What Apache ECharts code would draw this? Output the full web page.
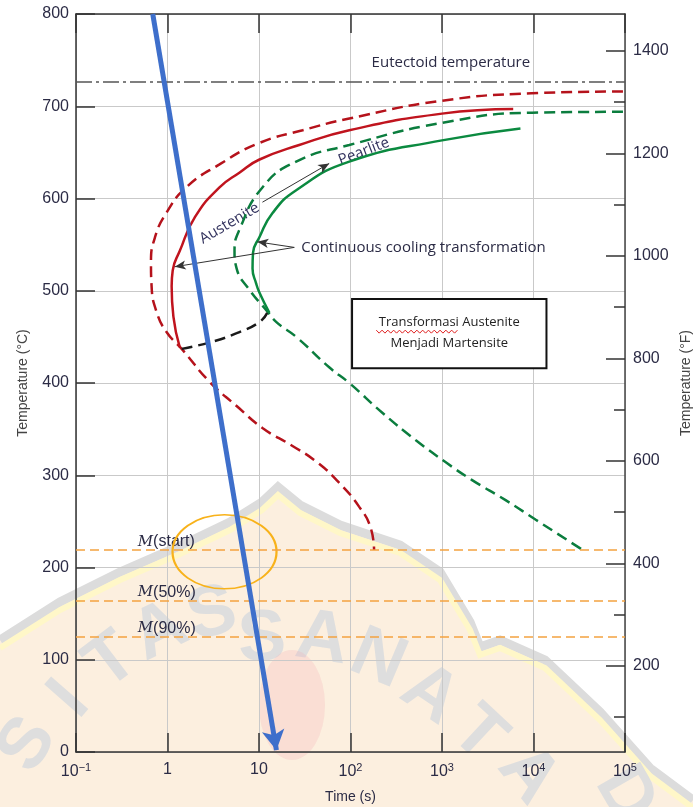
<!DOCTYPE html>
<html>
<head>
<meta charset="utf-8">
<title>CCT diagram</title>
<script src="https://cdn.jsdelivr.net/npm/echarts@6/dist/echarts.min.js"></script>
<style>
  html, body { margin: 0; padding: 0; background: #fff; }
  #chart { width: 693px; height: 807px; }
</style>
</head>
<body>
<div id="chart"></div>
<script>
// axis ticks
var tempMajorF = [200, 400, 600, 800, 1000, 1200, 1400];
var tempMinorF = [100, 300, 500, 700, 900, 1100, 1300];

// curves: [time (s), temperature (°C)]
// isothermal start (red dashed)
var isoStart = [[95000, 716], [9500, 714], [1000, 706], [100, 687], [30, 674], [10, 660], [3.7, 637],
  [1.6, 612], [0.98, 585], [0.73, 558], [0.66, 530], [0.67, 505], [0.76, 477], [0.98, 455], [1.43, 437],
  [2.9, 401], [5.7, 375], [11, 351], [23, 332], [42, 315], [75, 292], [124, 266], [165, 244], [181, 219]];
// continuous cooling start (red solid)
var ccStart = [[6000, 697], [1000, 692], [97, 674], [27.5, 658], [10, 642], [6.1, 628], [3.7, 612],
  [2, 580], [1.36, 543], [1.14, 522], [1.11, 505], [1.16, 472], [1.36, 439]];
// isothermal finish (green dashed)
var isoFinish = [[95000, 694], [9500, 693], [1000, 682], [97, 658], [25.5, 640], [10.9, 612],
  [6.1, 566], [5.4, 543], [5.7, 524], [7.85, 501], [12, 479], [15.5, 466], [25.5, 450], [58.5, 417],
  [97, 400], [221, 368], [518, 338], [1100, 314], [2113, 295], [4955, 273], [10500, 252], [33300, 220]];
// continuous cooling finish (green solid)
var ccFinish = [[7200, 676], [1000, 663], [97, 640], [25.5, 609], [14, 584], [10.1, 558],
  [8.6, 541], [8.5, 524], [9.3, 508], [10.1, 498], [13, 476]];
// cooling-curve cutoff (black dashed)
var ccCut = [[1.43, 437], [2.9, 444], [5.7, 454], [10.1, 466], [12.3, 476]];
// cooling path (blue arrow)
var coolingPath = [[0.69, 800], [15.5, 2]];

var eutectoid = 727;
var mTemps = [219, 164, 125];
var mNames = ['(start)', '(50%)', '(90%)'];

// label arrows: [from, to]
var labelArrows = [
  [[10.9, 596], [58.5, 638]],
  [[24.3, 547], [1.2, 526]],
  [[24.3, 547], [9.6, 553]]
];

var chart = echarts.init(document.getElementById('chart'));
var ink = '#2b2b45';

function lineSeries(name, data, color, dashed) {
  return {
    name: name,
    type: 'line',
    data: data,
    smooth: 0.5,
    showSymbol: false,
    silent: true,
    lineStyle: { color: color, width: 2.5, type: dashed ? [11, 6] : 'solid' }
  };
}

function timeLabel(v) {
  var e = Math.round(Math.log(v) / Math.LN10);
  if (e === 0) return '1';
  if (e === 1) return '10';
  return '10{s|' + (e < 0 ? '\u2212' + (-e) : e) + '}';
}

chart.setOption({
  animation: false,
  backgroundColor: '#fff',
  grid: { left: 76, right: 68, top: 14, bottom: 55, outerBoundsMode: 'none', containLabel: false },
  xAxis: [{
    type: 'log',
    logBase: 10,
    min: 0.1,
    max: 100000,
    name: 'Time (s)',
    nameLocation: 'middle',
    nameGap: 38,
    nameTextStyle: { fontFamily: 'Liberation Sans', fontSize: 14, color: ink },
    axisLine: { lineStyle: { color: '#333', width: 1.5 } },
    axisTick: { inside: true, length: 19, lineStyle: { color: '#333', width: 1.5 } },
    splitLine: { show: true, lineStyle: { color: '#c9c9c9', width: 1 } },
    axisLabel: {
      margin: 10,
      fontFamily: 'Liberation Sans',
      fontSize: 16,
      color: ink,
      formatter: timeLabel,
      rich: { s: { fontFamily: 'Liberation Sans', fontSize: 11, color: ink, verticalAlign: 'top', padding: [0, 0, 9, 0] } }
    }
  }, {
    type: 'log',
    logBase: 10,
    min: 0.1,
    max: 100000,
    position: 'top',
    axisLine: { lineStyle: { color: '#333', width: 1.5 } },
    axisTick: { inside: true, length: 19, lineStyle: { color: '#333', width: 1.5 } },
    axisLabel: { show: false },
    splitLine: { show: false }
  }],
  yAxis: [{
    type: 'value',
    min: 0,
    max: 800,
    interval: 100,
    name: 'Temperature (\u00b0C)',
    nameLocation: 'middle',
    nameRotate: 90,
    nameGap: 46,
    nameTextStyle: { fontFamily: 'Liberation Sans', fontSize: 14, color: '#444' },
    axisLine: { show: true, lineStyle: { color: '#333', width: 1.5 } },
    axisTick: { show: true, inside: true, length: 19, lineStyle: { color: '#333', width: 1.5 } },
    splitLine: { show: true, lineStyle: { color: '#c9c9c9', width: 1 } },
    axisLabel: { margin: 7, fontFamily: 'Liberation Sans', fontSize: 16, color: ink }
  }, {
    type: 'value',
    min: 32,
    max: 1472,
    position: 'right',
    name: 'Temperature (\u00b0F)',
    nameLocation: 'middle',
    nameRotate: 90,
    nameGap: 44,
    nameTextStyle: { fontFamily: 'Liberation Sans', fontSize: 14, color: '#444' },
    axisLine: { show: true, lineStyle: { color: '#444', width: 1.5 } },
    axisTick: { show: true, inside: true, length: 19, customValues: tempMajorF, lineStyle: { color: '#333', width: 1.5 } },
    axisLabel: {
      margin: 8, customValues: tempMajorF, fontFamily: 'Liberation Sans', fontSize: 16, color: ink,
      formatter: function (v) { return String(v); }
    },
    splitLine: { show: false }
  }, {
    type: 'value',
    min: 32,
    max: 1472,
    position: 'right',
    axisLine: { show: false },
    axisTick: { show: true, inside: true, length: 11, customValues: tempMinorF, lineStyle: { color: '#333', width: 1.5 } },
    axisLabel: { show: false },
    splitLine: { show: false }
  }],
  series: [
    {
      name: 'reference lines',
      type: 'line',
      data: [],
      silent: true,
      markLine: {
        silent: true,
        symbol: 'none',
        label: { show: false },
        animation: false,
        data: [
          { yAxis: eutectoid, lineStyle: { color: '#555', width: 1.5, type: [16, 4, 3, 4] } }
        ].concat(mTemps.map(function (v) {
          return { yAxis: v, lineStyle: { color: '#f4a240', width: 1.5, type: [9, 5] } };
        }))
      }
    },
    lineSeries('isoStart', isoStart, '#b5121b', true),
    lineSeries('ccStart', ccStart, '#c0141e', false),
    lineSeries('isoFinish', isoFinish, '#0b7d3e', true),
    lineSeries('ccFinish', ccFinish, '#0b8a40', false),
    lineSeries('ccCut', ccCut, '#1a1a1a', true),
    {
      name: 'label arrows',
      type: 'line',
      data: [],
      silent: true,
      markLine: {
        silent: true,
        symbol: ['none', 'arrow'],
        symbolSize: [7, 11],
        label: { show: false },
        lineStyle: { color: '#333', width: 1, type: 'solid' },
        itemStyle: { color: '#333' },
        data: labelArrows.map(function (a) {
          return [{ coord: a[0] }, { coord: a[1] }];
        })
      }
    },
    {
      name: 'cooling path',
      type: 'line',
      data: [],
      silent: true,
      z: 5,
      markLine: {
        silent: true,
        symbol: ['none', 'arrow'],
        symbolSize: [17, 20],
        label: { show: false },
        lineStyle: { color: '#3e6fcb', width: 5, type: 'solid' },
        itemStyle: { color: '#3b5fbf' },
        data: [[{ coord: coolingPath[0] }, { coord: coolingPath[1] }]]
      }
    }
  ]
});

function px(t, T) {
  return chart.convertToPixel({ xAxisIndex: 0, yAxisIndex: 0 }, [t, T]);
}

var noteFont = 'Open Sans';
var elements = [];

// watermark (behind the chart)
var wmEdge = [[0, 640], [60, 602], [120, 572], [180, 546], [230, 522], [262, 502], [278, 487],
  [300, 505], [340, 525], [400, 545], [440, 572], [470, 622], [480, 647], [500, 640], [545, 660],
  [600, 712], [650, 768], [693, 800]];
elements.push({
  type: 'polygon', z: -10, silent: true,
  shape: { points: wmEdge.concat([[693, 807], [0, 807]]) },
  style: { fill: '#fcefdf' }
});
elements.push({
  type: 'polyline', z: -9, silent: true,
  shape: { points: wmEdge },
  style: { stroke: '#dcdcdc', lineWidth: 9, fill: null }
});
elements.push({
  type: 'polyline', z: -8, silent: true,
  shape: { points: wmEdge.map(function (p) { return [p[0], p[1] + 8]; }) },
  style: { stroke: '#fff7c8', lineWidth: 6, fill: null }
});
var wmLetters = [
  ['S', 28, 745, 1.0], ['I', 70, 700, 0.85], ['T', 112, 662, 0.65], ['A', 160, 632, 0.45], ['S', 212, 615, 0.25],
  ['S', 262, 640, 0.05], ['A', 322, 640, -0.15], ['N', 378, 660, -0.4], ['A', 430, 695, -0.6],
  ['T', 478, 735, -0.75], ['A', 528, 775, -0.9], ['D', 625, 795, -1.05]
];
wmLetters.forEach(function (l) {
  elements.push({
    type: 'text', z: -7, silent: true,
    x: l[1], y: l[2], rotation: l[3],
    style: { text: l[0], fontFamily: 'Liberation Sans', fontWeight: 'bold', fontSize: 72, fill: '#dedede', align: 'center', verticalAlign: 'middle' }
  });
});
elements.push({
  type: 'circle', z: -6, silent: true,
  x: 292, y: 705, scaleX: 0.6,
  shape: { r: 55 },
  style: { fill: 'rgba(245,170,180,0.25)' }
});

// text annotations
var eu = px(1250, 747);
elements.push({ type: 'text', x: eu[0], y: eu[1], style: { text: 'Eutectoid temperature', font: '15px ' + noteFont, fill: ink, align: 'center', verticalAlign: 'middle' } });

var cc = px(27.5, 547);
elements.push({ type: 'text', x: cc[0] + 2, y: cc[1], style: { text: 'Continuous cooling transformation', font: '15px ' + noteFont, fill: ink, align: 'left', verticalAlign: 'middle' } });

var au = px(4.76, 573);
elements.push({ type: 'text', x: au[0], y: au[1], rotation: 30.5 * Math.PI / 180, style: { text: 'Austenite', font: '15px ' + noteFont, fill: '#33335e', align: 'center', verticalAlign: 'middle' } });

var pe = px(140, 651);
elements.push({ type: 'text', x: pe[0], y: pe[1], rotation: 21 * Math.PI / 180, style: { text: 'Pearlite', font: '15px ' + noteFont, fill: '#33335e', align: 'center', verticalAlign: 'middle' } });

mTemps.forEach(function (v, i) {
  var p = px(0.473, v + 9);
  elements.push({
    type: 'text', x: p[0], y: p[1],
    style: {
      text: '{m|M}{r|' + mNames[i] + '}',
      align: 'left', verticalAlign: 'middle',
      rich: {
        m: { fontFamily: 'DejaVu Serif', fontStyle: 'italic', fontSize: 15, fill: ink },
        r: { fontFamily: 'Liberation Sans', fontSize: 16, fill: ink }
      }
    }
  });
});

// highlighted crossing
var ec = px(4.2, 217);
elements.push({
  type: 'circle', x: ec[0], y: ec[1], scaleX: 52 / 37,
  shape: { r: 37 },
  style: { fill: null, stroke: '#f8b21a', lineWidth: 1.6 }
});

// note box
var b0 = px(104, 491), b1 = px(13860, 416);
elements.push({
  type: 'rect',
  shape: { x: b0[0], y: b0[1], width: b1[0] - b0[0], height: b1[1] - b0[1] },
  style: { fill: '#fff', stroke: '#111', lineWidth: 2 }
});
var bx = (b0[0] + b1[0]) / 2, by = (b0[1] + b1[1]) / 2;
elements.push({ type: 'text', x: bx, y: by - 11, style: { text: 'Transformasi Austenite', font: '13px ' + noteFont, fill: '#222', align: 'center', verticalAlign: 'middle' } });
elements.push({ type: 'text', x: bx, y: by + 10, style: { text: 'Menjadi Martensite', font: '13px ' + noteFont, fill: '#222', align: 'center', verticalAlign: 'middle' } });
// spell-check squiggle under "Transformasi"
var sq = [];
for (var i = 0; i <= 28; i++) {
  sq.push([bx - 73 + i * 2.9, by - 2 + (i % 2 ? 1.5 : -1.5)]);
}
elements.push({ type: 'polyline', shape: { points: sq }, style: { stroke: '#e02020', lineWidth: 1, fill: null } });

chart.setOption({ graphic: { elements: elements } });
</script>
</body>
</html>
